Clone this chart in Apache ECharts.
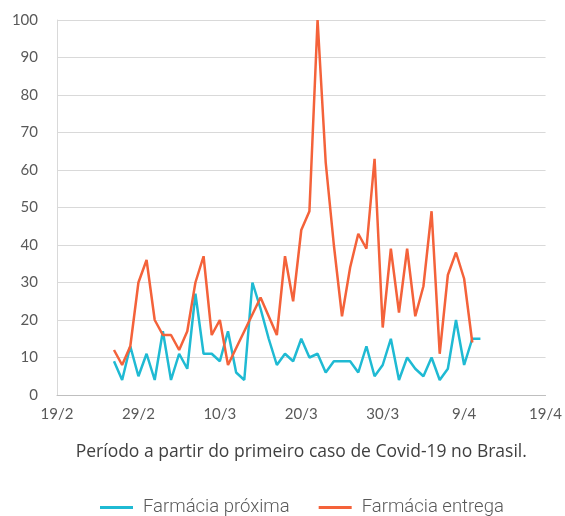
<!DOCTYPE html>
<html>
<head>
<meta charset="utf-8">
<script src="https://cdn.jsdelivr.net/npm/echarts@6/dist/echarts.min.js"></script>
<style>
  html, body { margin: 0; padding: 0; background: #fff; }
  #chart { width: 565px; height: 516px; }
</style>
</head>
<body>
<div id="chart"></div>
<script>
"use strict";

// x axis is counted in days from 19/2 (2020)
const tickLabels = ["19/2", "29/2", "10/3", "20/3", "30/3", "9/4", "19/4"];
const firstDay = 7; // 26/2, first case in Brazil

// one value per day from 26/2 to 11/4
const farmaciaProxima = [
  9, 4, 13, 5, 11, 4, 17, 4, 11, 7,
  27, 11, 11, 9, 17, 6, 4, 30, 23, 15,
  8, 11, 9, 15, 10, 11, 6, 9, 9, 9,
  6, 13, 5, 8, 15, 4, 10, 7, 5, 10,
  4, 7, 20, 8, 15, 15
];
const farmaciaEntrega = [
  12, 8, 13, 30, 36, 20, 16, 16, 12, 17,
  30, 37, 16, 20, 8, null, null, null, 26, 21,
  16, 37, 25, 44, 49, 100, 62, 40, 21, 34,
  43, 39, 63, 18, 39, 22, 39, 21, 29, 49,
  11, 32, 38, 31, 14, null
];

const toPairs = values => values.map((v, i) => [firstDay + i, v]);

const labelFont = "Lato, 'Open Sans', sans-serif";

const chart = echarts.init(document.getElementById("chart"), null, {
  renderer: "canvas"
});

chart.setOption({
  animation: false,
  grid: { left: 57, right: 17, top: 20, bottom: 121, containLabel: false },
  legend: {
    top: 493,
    left: 95,
    icon: "rect",
    itemWidth: 33,
    itemHeight: 3,
    itemGap: 29,
    textStyle: {
      fontFamily: "Roboto, sans-serif",
      fontWeight: 300,
      fontSize: 18.5,
      color: "#595959",
      padding: [0, 0, 0, 5]
    },
    data: ["Farmácia próxima", "Farmácia entrega"]
  },
  xAxis: {
    type: "value",
    min: 0,
    max: 60,
    interval: 10,
    name: "Período a partir do primeiro caso de Covid-19 no Brasil.",
    nameLocation: "middle",
    nameGap: 48,
    nameTextStyle: {
      fontFamily: "'Open Sans', sans-serif",
      fontSize: 17.5,
      color: "#404040"
    },
    axisLine: { lineStyle: { color: "#bfbfbf", width: 1 } },
    axisTick: { show: false },
    splitLine: { show: false },
    axisLabel: {
      margin: 12,
      fontFamily: labelFont,
      fontSize: 15,
      color: "#595959",
      formatter: v => tickLabels[v / 10] || ""
    }
  },
  yAxis: {
    type: "value",
    min: 0,
    max: 100,
    interval: 10,
    axisLine: { show: true, lineStyle: { color: "#d9d9d9" } },
    axisTick: { show: false },
    splitLine: { lineStyle: { color: "#d9d9d9", width: 1 } },
    axisLabel: {
      margin: 19,
      fontFamily: labelFont,
      fontSize: 15,
      color: "#595959"
    }
  },
  series: [
    {
      name: "Farmácia próxima",
      type: "line",
      data: toPairs(farmaciaProxima),
      symbol: "none",
      itemStyle: { color: "#1fbad3" },
      lineStyle: { color: "#1fbad3", width: 2.5 }
    },
    {
      name: "Farmácia entrega",
      type: "line",
      data: toPairs(farmaciaEntrega),
      symbol: "none",
      connectNulls: true,
      itemStyle: { color: "#f4623a" },
      lineStyle: { color: "#f4623a", width: 2.5 }
    }
  ]
});

window.onresize = () => {
  chart.resize();
};
</script>
</body>
</html>
